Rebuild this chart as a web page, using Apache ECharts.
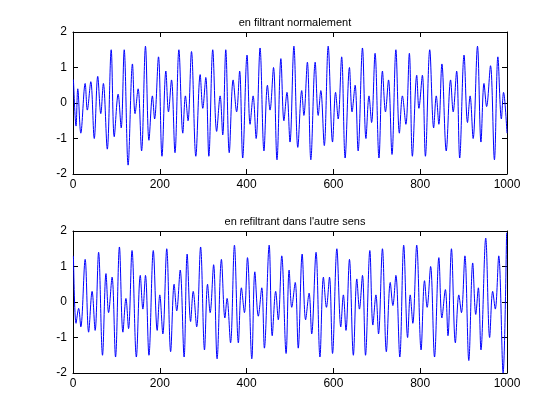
<!DOCTYPE html>
<html><head><meta charset="utf-8">
<script src="https://cdn.jsdelivr.net/npm/echarts@6/dist/echarts.min.js"></script>
<style>html,body{margin:0;padding:0;background:#fff}#c{width:560px;height:420px}</style>
</head><body><div id="c"></div>
<script>
const titles = ["en filtrant normalement", "en refiltrant dans l'autre sens"];
const xTicks = [0, 200, 400, 600, 800, 1000];
const yTicks = [-2, -1, 0, 1, 2];

// local extrema (sample index, value)
const topX = [1,7,11,18,28,33,41,49,57,64,70,79,88,95,104,111,118,127,137,143,150,158,
167,175,183,188,197,205,214,220,227,235,244,253,259,265,273,283,293,299,306,313,322,331,339,345,
352,360,369,377,384,391,401,408,415,422,431,440,448,454,462,470,479,486,493,500,509,518,527,532,540,548,558,565,571,579,588,598,605,611,619,627,637,643,650,657,667,675,682,
688,696,705,713,720,727,735,744,752,759,767,775,782,792,797,805,812,822,831,
837,843,850,860,870,876,884,891,901,909,915,922,932,940,947,953,962,971,979,987,992,1000];
const topY = [0.66,-0.65,0.4,-0.85,0.55,-0.2,0.6,-1.0,0.75,-0.3,0.55,-1.3,1.5,-0.95,0.25,-0.7,1.5,-1.75,1.1,-0.3,0.4,-1.35,
1.6,-1.05,0.2,-0.45,1.3,-1.5,0.9,-0.25,0.65,-1.4,1.5,-0.85,0.2,-0.5,1.45,-1.5,0.8,-0.15,0.72,-1.5,1.5,-0.8,0.2,-0.9,
1.5,-1.4,0.65,-0.25,0.9,-1.55,1.35,-0.6,0.2,-1.0,1.55,-1.35,0.5,-0.2,1.0,-1.6,1.25,-0.5,0.3,-1.1,1.6,-1.25,0.35,-0.35,1.15,-1.6,1.15,-0.35,0.35,-1.2,1.6,-1.1,0.3,-0.45,1.3,-1.55,1.0,-0.25,0.5,-1.35,1.55,-1.0,0.2,
-0.55,1.4,-1.55,0.9,-0.25,0.65,-1.45,1.5,-0.85,0.2,-0.6,1.4,-1.5,0.78,-0.15,0.78,-1.5,1.5,-0.7,
0.2,-0.6,1.1,-1.35,0.65,-0.25,0.9,-1.55,1.35,-0.55,0.2,-1.0,1.6,-1.1,0.55,-0.1,1.05,-1.6,1.3,-0.45,0.3,-0.85];

const botX = [1,7,13,18,28,36,44,51,59,68,76,82,90,98,107,115,122,128,136,146,155,161,167,175,185,194,200,207,216,225,233,239,247,256,263,271,277,285,294,303,310,316,324,332,
342,350,355,363,372,381,388,395,402,412,419,427,435,441,452,459,467,473,481,491,498,504,512,519,528,536,544,550,560,569,577,584,591,598,608,617,623,629,637,646,654,660,667,674,
684,691,698,704,713,722,731,737,744,753,762,771,777,783,792,802,810,816,824,833,843,850,858,864,872,881,889,895,903,912,921,928,934,940,951,960,967,973,981,991,999];
const botY = [1.3,-0.6,-0.18,-0.7,1.2,-0.85,0.3,-0.8,1.4,-1.5,0.8,-0.3,0.7,-1.55,1.55,-0.85,0.1,-0.75,1.45,-1.55,0.75,-0.2,0.75,-1.5,1.45,-0.8,0.2,-0.9,1.5,-1.4,0.5,-0.25,0.9,-1.55,1.35,-0.55,0.3,-0.7,1.55,-1.35,0.5,-0.3,1.05,-1.6,
1.2,-0.45,0.1,-1.15,1.6,-1.15,0.4,-0.3,1.25,-1.6,0.85,-0.4,0.4,-1.3,1.6,-0.95,0.3,-0.5,1.3,-1.45,0.9,-0.15,0.55,-1.3,1.35,-0.5,0.25,-0.9,1.4,-1.55,0.7,-0.15,0.7,-1.45,1.5,-0.7,0.2,-0.8,1.2,-1.5,0.65,-0.2,0.75,-1.5,
1.45,-0.65,0.2,-0.9,1.5,-1.4,0.55,-0.1,0.75,-1.55,1.6,-1.0,0.2,-0.6,1.6,-1.35,0.6,-0.15,1.0,-1.55,1.25,-0.45,0.35,-0.95,1.5,-1.15,0.2,-0.3,1.3,-1.65,1.1,-0.35,0.4,-1.35,1.8,-1.0,0.3,-0.2,1.3,-2.0,1.95];

const font = '"Liberation Sans", Arial, Helvetica, sans-serif';
const pairs = (xs, ys) => xs.map((x, i) => [x, ys[i]]);
const gridDefs = [{left: 73, top: 32, width: 434, height: 142}, {left: 73, top: 231, width: 434, height: 142}];

const xAxes = [], yAxes = [], series = [], titleList = [];
const lineBlack = {show: true, onZero: false, lineStyle: {color: '#000', width: 1}};
gridDefs.forEach((g, i) => {
  ['bottom', 'top'].forEach(pos => xAxes.push({
    type: 'value', gridIndex: i, position: pos,
    min: xTicks[0], max: xTicks[xTicks.length - 1], interval: xTicks[1] - xTicks[0],
    axisLine: lineBlack,
    axisTick: {show: true, inside: true, length: 5, lineStyle: {color: '#000'}},
    axisLabel: {show: pos === 'bottom', color: '#000', fontSize: 12, fontFamily: font, margin: 5,
      formatter: v => String(v)},
    splitLine: {show: false}
  }));
  ['left', 'right'].forEach(pos => yAxes.push({
    type: 'value', gridIndex: i, position: pos,
    min: yTicks[0], max: yTicks[yTicks.length - 1], interval: yTicks[1] - yTicks[0],
    axisLine: lineBlack,
    axisTick: {show: true, inside: true, length: 5, lineStyle: {color: '#000'}},
    axisLabel: {show: pos === 'left', color: '#000', fontSize: 12, fontFamily: font, margin: 6,
      formatter: v => String(v)},
    splitLine: {show: false}
  }));
  titleList.push({
    text: titles[i], left: 290, top: g.top - 20, textAlign: 'center',
    textStyle: {fontSize: 11, fontWeight: 'normal', color: '#000', fontFamily: font}
  });
});
[[topX, topY, 0], [botX, botY, 2]].forEach(([xs, ys, ax]) => series.push({
  type: 'line', xAxisIndex: ax, yAxisIndex: ax, data: pairs(xs, ys),
  showSymbol: false, smooth: 0.35, lineStyle: {color: '#0000ff', width: 1}, clip: true
}));

const chart = echarts.init(document.getElementById('c'));
chart.setOption({
  animation: false, backgroundColor: '#fff',
  title: titleList, grid: gridDefs, xAxis: xAxes, yAxis: yAxes, series: series
});
</script></body></html>
